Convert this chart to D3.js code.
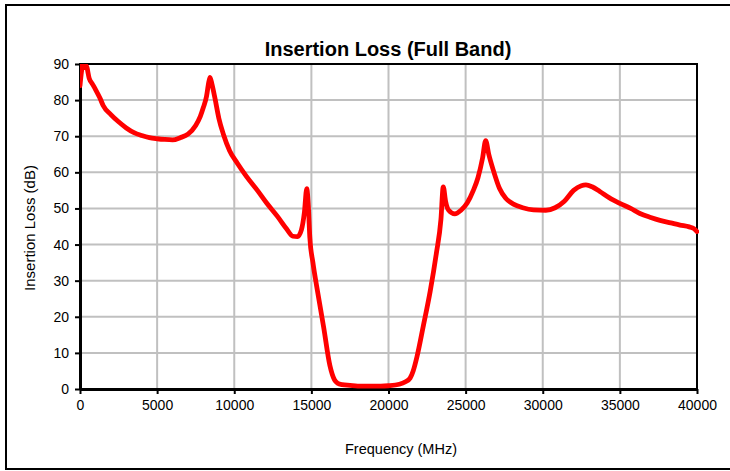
<!DOCTYPE html>
<html><head><meta charset="utf-8">
<script src="https://cdn.jsdelivr.net/npm/d3@7"></script>
<style>html,body{margin:0;padding:0;background:#fff}svg{display:block}</style>
</head><body>
<svg id="c" width="730" height="471"></svg>
<script>
const title = "Insertion Loss (Full Band)";
const xLabel = "Frequency (MHz)";
const yLabel = "Insertion Loss (dB)";
const xTicks = [0,5000,10000,15000,20000,25000,30000,35000,40000];
const yTicks = [0,10,20,30,40,50,60,70,80,90];
const freq = [0,100,200,300,400,600,800,1000,1300,1500,2000,2500,3000,3500,4000,4500,5000,5500,6000,6500,7000,7500,7800,8000,8200,8350,8430,8550,8750,9000,9300,9700,10200,10800,11500,12100,12800,13400,13800,14100,14350,14550,14700,14800,14900,15100,15350,15800,16200,16500,16700,17000,17500,18000,19000,19500,20000,20700,21100,21400,21600,21850,22250,22700,23100,23400,23550,23700,23900,24300,24700,25100,25500,25800,26100,26300,26500,26800,27200,27600,28100,28700,29400,30200,30800,31400,32000,32500,32800,33200,33700,34300,35000,35700,36300,37000,37600,38300,38900,39500,39800,40000];
const loss = [84,88,90.5,89,89.5,86,84.5,83,80.5,78.5,76,74,72.3,71,70.2,69.6,69.3,69.1,69.0,69.6,70.6,73,75.5,78,81,85,86.3,84.5,80.5,75,70.5,66,62.5,58.8,55,51.5,47.8,44.3,42.3,42.2,44,49,55.5,51,42,35,28.3,17,6.5,2.5,1.6,1.2,1.0,0.8,0.8,0.8,0.9,1.3,2.0,3.0,5,9,17.3,27,37.5,47,56,52,49.5,48.5,49.5,51.5,55,58.5,64,68.8,65,60.5,55.5,52.8,51.2,50.2,49.6,49.5,50.2,52,55,56.3,56.5,56,54.7,53,51.4,50,48.6,47.5,46.7,46,45.4,44.9,44.4,43.6];

const svg = d3.select("#c");
const font = "Liberation Sans, Arial, sans-serif";
// outer frame
svg.append("rect").attr("x",6).attr("y",5).attr("width",730).attr("height",464)
  .attr("fill","#fff").attr("stroke","#000").attr("stroke-width",2);

const L=80,R=697,T=64,B=389;
const x = d3.scaleLinear().domain([0,40000]).range([L,R]);
const y = d3.scaleLinear().domain([0,90]).range([B,T]);

// grid
svg.append("g").selectAll("line").data(xTicks.slice(1,-1)).join("line")
  .attr("x1",d=>x(d)).attr("x2",d=>x(d)).attr("y1",T).attr("y2",B)
  .attr("stroke","#c0c0c0").attr("stroke-width",2);
svg.append("g").selectAll("line").data(yTicks.slice(1,-1)).join("line")
  .attr("x1",L).attr("x2",R).attr("y1",d=>y(d)).attr("y2",d=>y(d))
  .attr("stroke","#c0c0c0").attr("stroke-width",2);

// plot border
svg.append("rect").attr("x",L).attr("y",T).attr("width",R-L).attr("height",B-T)
  .attr("fill","none").attr("stroke","#000").attr("stroke-width",2);

// axes
const xAxis = svg.append("g").attr("transform",`translate(0,${B})`)
  .call(d3.axisBottom(x).tickValues(xTicks).tickFormat(d=>String(d)).tickSize(5).tickSizeOuter(0));
const yAxis = svg.append("g").attr("transform",`translate(${L},0)`)
  .call(d3.axisLeft(y).tickValues(yTicks).tickSize(5).tickSizeOuter(0));
[xAxis,yAxis].forEach(a=>{
  a.select(".domain").attr("stroke","#000").attr("stroke-width",3);
  a.selectAll(".tick line").attr("stroke","#000").attr("stroke-width",2);
  a.selectAll("text").attr("font-family",font).attr("font-size",14).attr("fill","#000");
});
xAxis.selectAll("text").attr("dy","0.95em");
yAxis.selectAll("text").attr("x",-11);

// clip
svg.append("clipPath").attr("id","clip").append("rect")
  .attr("x",L).attr("y",T).attr("width",R-L+2).attr("height",B-T);

const pts = freq.map((f,i)=>[f,loss[i]]);
svg.append("path").datum(pts).attr("clip-path","url(#clip)")
  .attr("d", d3.line().x(d=>x(d[0])).y(d=>y(d[1])).curve(d3.curveMonotoneX))
  .attr("fill","none").attr("stroke","#ff0000").attr("stroke-width",4.8)
  .attr("stroke-linejoin","round").attr("stroke-linecap","round");

svg.append("text").attr("x",388).attr("y",56).attr("text-anchor","middle")
  .attr("font-family",font).attr("font-weight","bold").attr("font-size",20).text(title);
svg.append("text").attr("x",401).attr("y",454).attr("text-anchor","middle")
  .attr("font-family",font).attr("font-size",14.5).text(xLabel);
svg.append("text").attr("transform","translate(35,228) rotate(-90)").attr("text-anchor","middle")
  .attr("font-family",font).attr("font-size",15).text(yLabel);
</script>
</body></html>
